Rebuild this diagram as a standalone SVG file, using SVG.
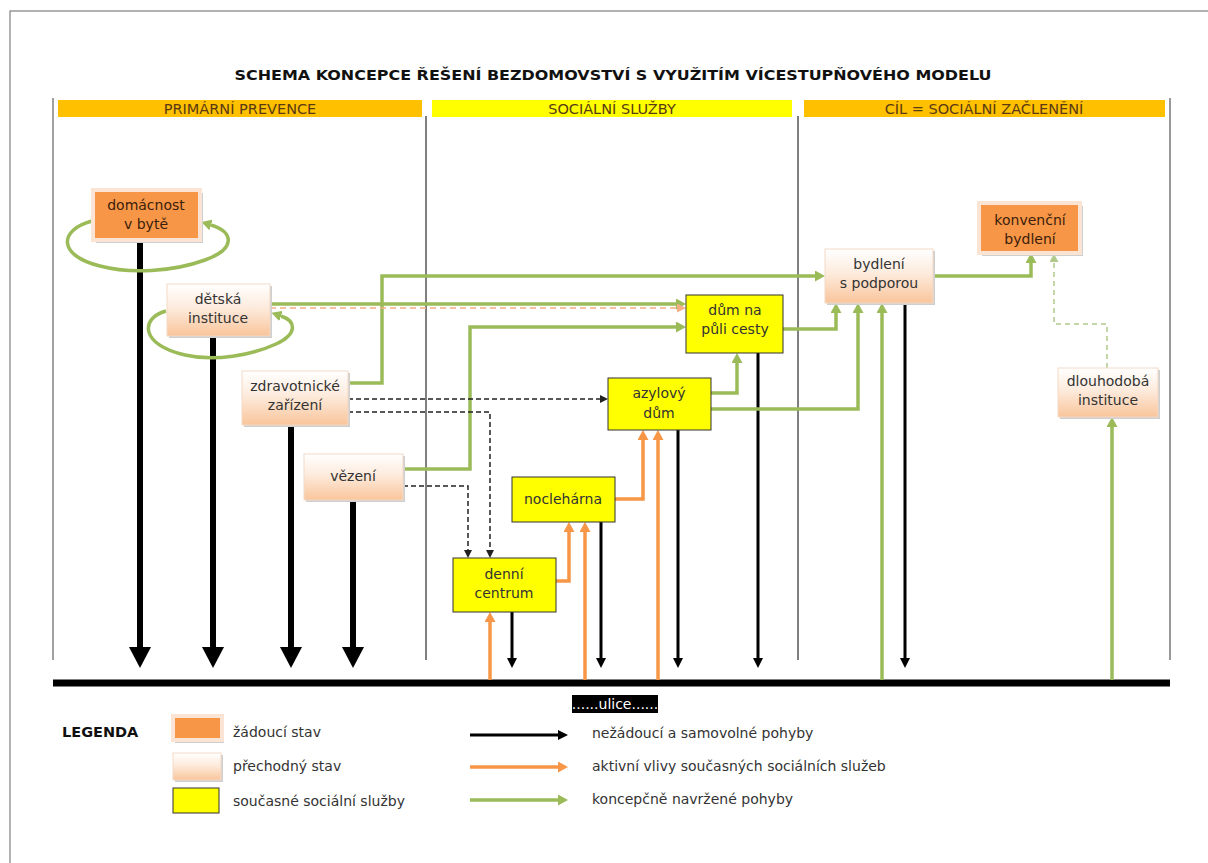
<svg xmlns="http://www.w3.org/2000/svg" width="1208" height="863" viewBox="0 0 1208 863">
<style>
text{font-family:"DejaVu Sans","Liberation Sans",sans-serif;}
.t{font-size:14px;fill:#333;text-anchor:middle;}
.to{font-size:14px;fill:#3b200c;text-anchor:middle;}
.hd{font-size:14.5px;fill:#5a3a12;text-anchor:middle;}
.lg{font-size:14px;fill:#333;}
.col{stroke:#000;stroke-width:1;fill:none;}
.blk{stroke:#000;stroke-width:6;fill:none;}
.blt{stroke:#000;stroke-width:3;fill:none;}
.org{stroke:#F79646;stroke-width:3.5;fill:none;}
.grn{stroke:#9BBB59;stroke-width:3.5;fill:none;}
.dsh{stroke:#222;stroke-width:1.5;stroke-dasharray:5 3;fill:none;}
.odsh{stroke:#F4B084;stroke-width:1.5;stroke-dasharray:6 4;fill:none;}
.gdsh{stroke:#B0C98A;stroke-width:1.5;stroke-dasharray:5 4;fill:none;}
.yel{fill:#FFFF00;stroke:#333;stroke-width:1;}
.pch{fill:url(#pg);stroke:#F3D9C6;stroke-width:1;}
.orb{fill:#F79646;stroke:#FCE4D4;stroke-width:4;}
.shd{fill:#cfcfcf;}
</style>
<defs>
<linearGradient id="pg" x1="0" y1="0" x2="0" y2="1">
<stop offset="0" stop-color="#FFFFFF"/>
<stop offset="0.45" stop-color="#FDEBDD"/>
<stop offset="1" stop-color="#F9C59B"/>
</linearGradient>
<marker id="mBig" markerUnits="userSpaceOnUse" markerWidth="21" markerHeight="22" refX="0" refY="11" orient="auto"><path d="M0,0 L21,11 L0,22 z" fill="#000"/></marker>
<marker id="mBlk" markerUnits="userSpaceOnUse" markerWidth="10" markerHeight="10" refX="0" refY="5" orient="auto"><path d="M0,0 L10,5 L0,10 z" fill="#000"/></marker>
<marker id="mOrg" markerUnits="userSpaceOnUse" markerWidth="10" markerHeight="11" refX="0" refY="5.5" orient="auto"><path d="M0,0 L10,5.5 L0,11 z" fill="#F79646"/></marker>
<marker id="mGrn" markerUnits="userSpaceOnUse" markerWidth="10" markerHeight="11" refX="0" refY="5.5" orient="auto"><path d="M0,0 L10,5.5 L0,11 z" fill="#9BBB59"/></marker>
<marker id="mDsh" markerUnits="userSpaceOnUse" markerWidth="8" markerHeight="8" refX="0" refY="4" orient="auto"><path d="M0,0 L8,4 L0,8 z" fill="#222"/></marker>
<marker id="mODsh" markerUnits="userSpaceOnUse" markerWidth="9" markerHeight="9" refX="0" refY="4.5" orient="auto"><path d="M0,0 L9,4.5 L0,9 z" fill="#F4B084"/></marker>
<marker id="mGDsh" markerUnits="userSpaceOnUse" markerWidth="8" markerHeight="9" refX="0" refY="4.5" orient="auto"><path d="M0,0 L8,4.5 L0,9 z" fill="#B0C98A"/></marker>
</defs>
<rect width="1208" height="863" fill="#fff"/>
<rect x="10" y="11" width="1230" height="880" fill="none" stroke="#7f7f7f" stroke-width="1.2"/>

<g id="title">
<text x="613" y="80" font-size="14" font-weight="bold" fill="#111" text-anchor="middle" textLength="757" lengthAdjust="spacingAndGlyphs">SCHEMA KONCEPCE ŘEŠENÍ BEZDOMOVSTVÍ  S VYUŽITÍM  VÍCESTUPŇOVÉHO MODELU</text>
</g>

<g id="columns">
<line x1="53" y1="98" x2="53" y2="660" stroke="#808080" stroke-width="1.5"/>
<line class="col" x1="426" y1="116" x2="426" y2="660"/>
<line class="col" x1="798" y1="116" x2="798" y2="660"/>
<line x1="1170" y1="98" x2="1170" y2="660" stroke="#555" stroke-width="1.2"/>
</g>

<g id="headers">
<rect x="58" y="100" width="364" height="17" fill="#FFC000"/>
<text class="hd" x="240" y="114">PRIMÁRNÍ PREVENCE</text>
<rect x="432" y="100" width="360" height="17" fill="#FFFF00"/>
<text class="hd" x="612" y="114">SOCIÁLNÍ SLUŽBY</text>
<rect x="804" y="100" width="361" height="17" fill="#FFC000"/>
<text class="hd" x="984" y="114">CÍL = SOCIÁLNÍ ZAČLENĚNÍ</text>
</g>

<g id="connectors">
<line x1="53" y1="683" x2="1170" y2="683" stroke="#000" stroke-width="7"/>
<path class="blk" d="M140 240 V647" marker-end="url(#mBig)"/>
<path class="blk" d="M213 336 V647" marker-end="url(#mBig)"/>
<path class="blk" d="M291 425 V647" marker-end="url(#mBig)"/>
<path class="blk" d="M353 500 V647" marker-end="url(#mBig)"/>
<path class="blt" d="M512 612 V658" marker-end="url(#mBlk)"/>
<path class="blt" d="M601 522 V658" marker-end="url(#mBlk)"/>
<path class="blt" d="M678 430 V658" marker-end="url(#mBlk)"/>
<path class="blt" d="M758 353 V658" marker-end="url(#mBlk)"/>
<path class="blt" d="M905 303 V658" marker-end="url(#mBlk)"/>
<path class="org" d="M490 680 V622" marker-end="url(#mOrg)"/>
<path class="org" d="M585 680 V532" marker-end="url(#mOrg)"/>
<path class="org" d="M658 680 V440" marker-end="url(#mOrg)"/>
<path class="org" d="M556 581 H569 V532" marker-end="url(#mOrg)"/>
<path class="org" d="M615 499 H643 V440" marker-end="url(#mOrg)"/>
<path class="grn" d="M92 221 C58 230, 58 256, 100 266 C130 274, 172 272, 205 260 C236 249, 234 232, 211 225" marker-end="url(#mGrn)"/>
<path class="grn" d="M166 311 C140 318, 140 345, 185 355 C215 362, 252 355, 276 344 C298 334, 296 321, 281 316" marker-end="url(#mGrn)"/>
<path class="grn" d="M270 304 H676" marker-end="url(#mGrn)"/>
<path class="grn" d="M348 383 H382 V276 H815" marker-end="url(#mGrn)"/>
<path class="grn" d="M403 469 H470 V327 H676" marker-end="url(#mGrn)"/>
<path class="grn" d="M711 393 H737 V363" marker-end="url(#mGrn)"/>
<path class="grn" d="M783 329 H836 V313" marker-end="url(#mGrn)"/>
<path class="grn" d="M711 409 H858 V313" marker-end="url(#mGrn)"/>
<path class="grn" d="M882 680 V313" marker-end="url(#mGrn)"/>
<path class="grn" d="M933 276 H1031 V263" marker-end="url(#mGrn)"/>
<path class="grn" d="M1112 680 V427" marker-end="url(#mGrn)"/>
<path class="gdsh" d="M1107 368 V324 H1054 V262" marker-end="url(#mGDsh)"/>
<path class="odsh" d="M270 308 H677" marker-end="url(#mODsh)"/>
<path class="dsh" d="M348 399 H600" marker-end="url(#mDsh)"/>
<path class="dsh" d="M348 412 H490 V550" marker-end="url(#mDsh)"/>
<path class="dsh" d="M403 486 H468 V550" marker-end="url(#mDsh)"/>
</g>

<g id="n-domacnost">
<rect class="shd" x="96" y="193" width="107" height="50"/>
<rect class="orb" x="93" y="190" width="107" height="50"/>
<text class="to" x="146" y="210">domácnost</text>
<text class="to" x="146" y="229">v bytě</text>
</g>
<g id="n-detska">
<rect class="shd" x="169" y="286" width="103" height="52"/>
<rect class="pch" x="167" y="284" width="103" height="52"/>
<text class="t" x="218" y="304">dětská</text>
<text class="t" x="218" y="323">instituce</text>
</g>
<g id="n-zdrav">
<rect class="shd" x="244" y="373" width="106" height="54"/>
<rect class="pch" x="242" y="371" width="106" height="54"/>
<text class="t" x="295" y="391">zdravotnické</text>
<text class="t" x="295" y="410">zařízení</text>
</g>
<g id="n-vezeni">
<rect class="shd" x="306" y="456" width="99" height="46"/>
<rect class="pch" x="304" y="454" width="99" height="46"/>
<text class="t" x="353" y="481">vězení</text>
</g>
<g id="n-denni">
<rect class="yel" x="453" y="558" width="103" height="54"/>
<text class="t" x="504" y="579">denní</text>
<text class="t" x="504" y="598">centrum</text>
</g>
<g id="n-nocleharna">
<rect class="yel" x="512" y="477" width="103" height="45"/>
<text class="t" x="563" y="504">noclehárna</text>
</g>
<g id="n-azylovy">
<rect class="yel" x="608" y="378" width="103" height="52"/>
<text class="t" x="659" y="398">azylový</text>
<text class="t" x="659" y="418">dům</text>
</g>
<g id="n-dum">
<rect class="yel" x="686" y="295" width="97" height="58"/>
<text class="t" x="735" y="315">dům na</text>
<text class="t" x="735" y="334">půli cesty</text>
</g>
<g id="n-bydleni">
<rect class="shd" x="827" y="251" width="108" height="54"/>
<rect class="pch" x="825" y="249" width="108" height="54"/>
<text class="t" x="879" y="269">bydlení</text>
<text class="t" x="879" y="288">s podporou</text>
</g>
<g id="n-konvencni">
<rect class="shd" x="982" y="206" width="101" height="50"/>
<rect class="orb" x="979" y="203" width="101" height="50"/>
<text class="to" x="1030" y="225">konvenční</text>
<text class="to" x="1030" y="244">bydlení</text>
</g>
<g id="n-dlouhodoba">
<rect class="shd" x="1060" y="370" width="100" height="49"/>
<rect class="pch" x="1058" y="368" width="100" height="49"/>
<text class="t" x="1108" y="386">dlouhodobá</text>
<text class="t" x="1108" y="405">instituce</text>
</g>

<g id="ulice">
<rect x="572" y="695" width="86" height="18" fill="#000"/>
<text x="615" y="709" font-size="14" fill="#fff" text-anchor="middle">......ulice......</text>
</g>

<g id="legend">
<text x="62" y="737" font-size="14.5" font-weight="bold" fill="#111">LEGENDA</text>
<rect class="shd" x="175" y="718" width="49" height="25"/>
<rect class="orb" x="173" y="716" width="49" height="24"/>
<text class="lg" x="233" y="737">žádoucí stav</text>
<rect class="shd" x="175" y="755" width="48" height="27"/>
<rect class="pch" x="173" y="753" width="48" height="27"/>
<text class="lg" x="233" y="771">přechodný stav</text>
<rect class="yel" x="173" y="788" width="46" height="25"/>
<text class="lg" x="233" y="806">současné sociální služby</text>
<path class="blt" d="M470 735 H558" marker-end="url(#mBlk)"/>
<text class="lg" x="592" y="738">nežádoucí a samovolné pohyby</text>
<path class="org" d="M470 767 H558" marker-end="url(#mOrg)"/>
<text class="lg" x="592" y="771">aktivní vlivy současných sociálních služeb</text>
<path class="grn" d="M470 800 H558" marker-end="url(#mGrn)"/>
<text class="lg" x="592" y="804">koncepčně navržené pohyby</text>
</g>
</svg>
